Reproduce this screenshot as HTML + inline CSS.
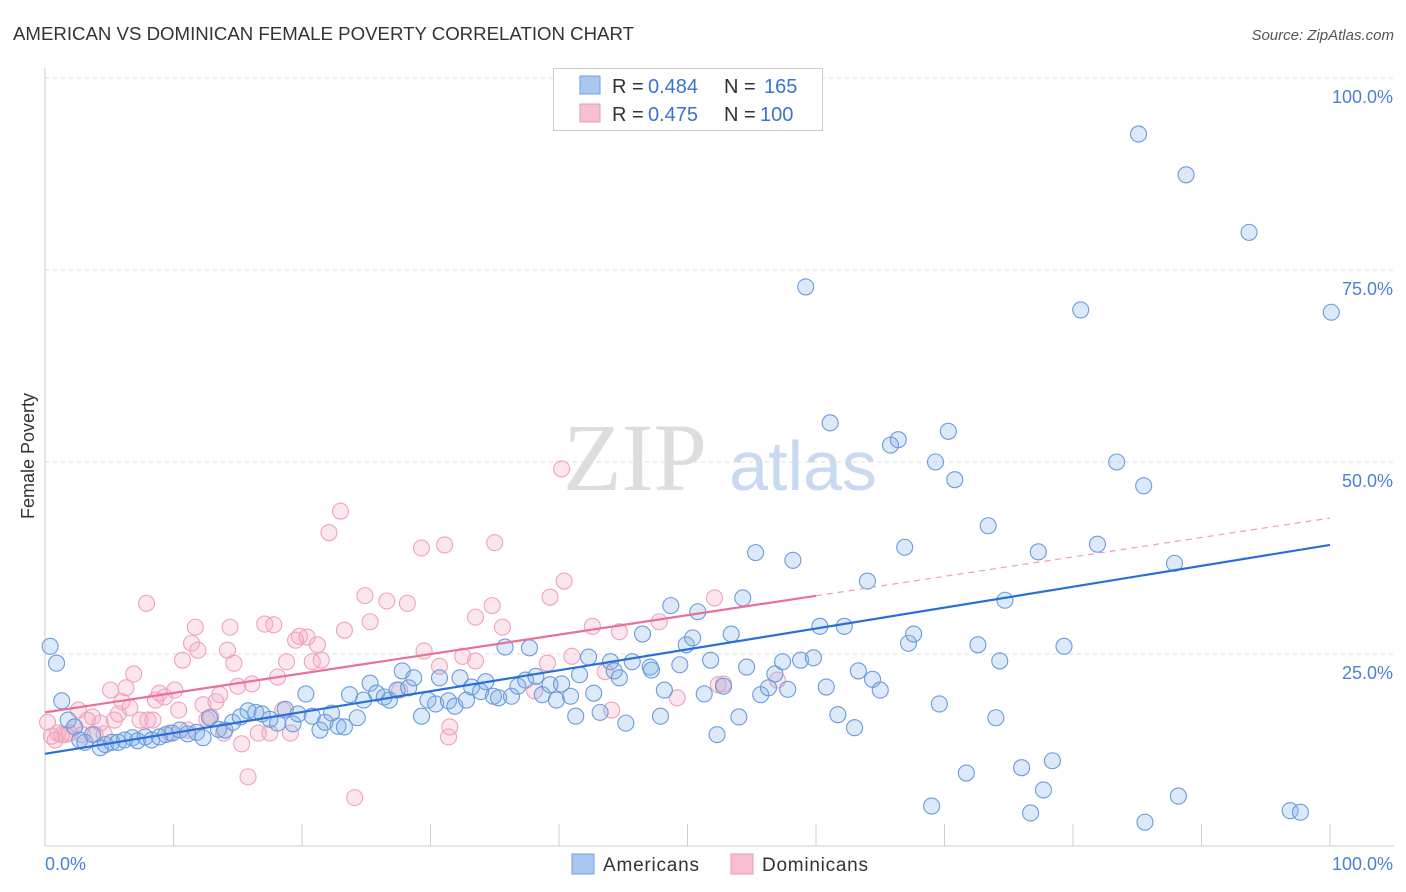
<!DOCTYPE html>
<html><head><meta charset="utf-8"><style>
body{margin:0;background:#fff;font-family:"Liberation Sans",sans-serif;}
#wrap{position:relative;width:1406px;height:892px;overflow:hidden;}
</style></head><body>
<div id="wrap">
<svg id="svg" width="1406" height="892" xmlns="http://www.w3.org/2000/svg">
<text x="13" y="40" font-size="18" fill="#333" textLength="621" lengthAdjust="spacingAndGlyphs">AMERICAN VS DOMINICAN FEMALE POVERTY CORRELATION CHART</text>
<text x="1394" y="40" font-size="15" fill="#555" font-style="italic" text-anchor="end">Source: ZipAtlas.com</text>
<text x="34" y="456" font-size="18" fill="#333" text-anchor="middle" transform="rotate(-90 34 456)">Female Poverty</text>
<g>
<text x="635" y="490" font-size="96" font-family="Liberation Serif,serif" fill="#ddd" text-anchor="middle">ZIP</text>
<text x="803" y="490" font-size="70" fill="#c9daf0" text-anchor="middle">atlas</text>
</g>
<g id="grid"></g><g id="pts"></g><g id="lines"></g>
<g>
<rect x="553.5" y="68.5" width="269" height="62" fill="#fff" stroke="#ccc"/>
<rect x="580" y="76" width="20" height="18" fill="#a9c8f0" stroke="#6f9fdc"/>
<rect x="580" y="104" width="20" height="18" fill="#f7c0d0" stroke="#e89ab2"/>
<text x="612" y="93" font-size="20" fill="#333">R =</text>
<text x="648" y="93" font-size="20" fill="#3a74d0">0.484</text>
<text x="724" y="93" font-size="20" fill="#333">N =</text>
<text x="764" y="93" font-size="20" fill="#3a74d0">165</text>
<text x="612" y="121" font-size="20" fill="#333">R =</text>
<text x="648" y="121" font-size="20" fill="#3a74d0">0.475</text>
<text x="724" y="121" font-size="20" fill="#333">N =</text>
<text x="760" y="121" font-size="20" fill="#3a74d0">100</text>
</g>
<g>
<rect x="572" y="854" width="22" height="20" fill="#a9c8f0" stroke="#6f9fdc"/>
<text x="603" y="871" font-size="19" fill="#333" textLength="96">Americans</text>
<rect x="731" y="854" width="22" height="20" fill="#f7c0d0" stroke="#e89ab2"/>
<text x="762" y="871" font-size="19" fill="#333" textLength="106">Dominicans</text>
</g>
</svg>
<script>
const xTickLabels=["0.0%","100.0%"];
const yTicks=[25,50,75,100];
const yTickLabels=["25.0%","50.0%","75.0%","100.0%"];
const blueX=[0.4,0.9,1.3,1.8,2.3,2.7,3.1,3.7,4.3,4.7,5.2,5.7,6.2,6.8,7.2,7.8,8.3,8.9,9.4,9.9,10.5,11.1,11.8,12.3,12.8,13.5,14.0,14.6,15.2,15.8,16.4,16.9,17.5,18.1,18.7,19.3,19.7,20.3,20.8,21.4,21.8,22.3,22.8,23.3,23.7,24.3,24.8,25.3,25.8,26.4,26.8,27.4,27.8,28.3,28.7,29.3,29.8,30.4,30.7,31.4,31.9,32.3,32.8,33.2,33.9,34.3,34.9,35.3,35.8,36.3,36.8,37.4,37.7,38.2,38.7,39.3,39.8,40.2,40.9,41.3,41.6,42.3,42.7,43.2,44.0,44.3,44.7,45.2,45.7,46.5,47.1,47.2,47.9,48.2,48.7,49.4,49.9,50.4,50.8,51.3,51.8,52.3,52.8,53.4,54.0,54.3,54.6,55.3,55.7,56.3,56.8,57.4,57.8,58.2,58.8,59.2,59.8,60.3,60.8,61.1,61.7,62.2,63.0,63.3,64.0,64.4,65.0,65.8,66.4,66.9,67.2,67.6,69.0,69.3,69.6,70.3,70.8,71.7,72.6,73.4,74.0,74.3,74.7,76.0,76.7,77.3,77.7,78.4,79.3,80.6,81.9,83.4,85.1,85.5,85.6,87.9,88.2,88.8,93.7,96.9,97.7,100.1];
const blueY=[26.0,23.8,18.9,16.4,15.5,13.8,13.5,14.5,12.8,13.2,13.5,13.5,13.8,14.1,13.7,14.2,13.8,14.2,14.5,14.7,15.1,14.6,14.8,14.1,16.7,15.2,15.1,16.1,16.8,17.6,17.4,17.2,16.5,16.0,17.8,15.9,17.2,19.8,16.9,15.1,16.1,17.3,15.6,15.5,19.7,16.7,19.0,21.2,19.9,19.4,19.0,20.3,22.8,20.6,21.9,16.9,19.0,18.5,21.9,18.9,18.2,21.9,19.0,20.7,20.1,21.4,19.5,19.3,25.9,19.5,20.8,21.6,25.8,22.1,19.7,21.0,19.0,21.1,19.5,16.9,22.3,24.6,19.9,17.4,24.0,22.8,21.9,16.0,24.0,27.6,23.3,22.9,16.9,20.3,31.3,23.6,26.2,27.1,30.5,19.8,24.2,14.5,20.8,27.6,16.8,32.3,23.3,38.2,19.7,20.6,22.4,24.0,20.4,37.2,24.2,72.8,24.5,28.6,20.7,55.1,17.1,28.6,15.4,22.8,34.5,21.7,20.3,52.2,52.9,38.9,26.4,27.6,5.2,50.0,18.5,54.0,47.7,9.5,26.2,41.7,16.7,24.1,32.0,10.2,4.3,38.3,7.3,11.1,26.0,69.8,39.3,50.0,92.7,46.9,3.1,36.8,6.5,87.4,79.9,4.6,4.4,69.5];
const pinkX=[0.2,0.5,0.8,1.0,1.3,1.6,1.9,2.3,2.6,2.9,3.3,3.7,3.9,4.3,4.6,5.1,5.4,5.7,6.0,6.3,6.6,6.9,7.4,7.9,8.0,8.4,8.6,8.9,9.3,9.7,10.1,10.4,10.7,11.1,11.4,11.7,11.9,12.3,12.6,12.9,13.3,13.6,13.9,14.2,14.4,14.7,15.0,15.3,15.8,16.1,16.6,17.1,17.5,17.8,18.1,18.5,18.8,19.1,19.5,19.8,20.4,20.8,21.2,21.5,22.1,23.0,23.3,24.1,24.9,25.3,26.6,27.6,28.2,29.3,29.5,30.7,31.1,31.4,31.5,32.5,33.5,33.5,34.8,35.0,35.6,38.1,39.1,39.3,40.2,40.4,41.0,42.6,43.6,44.1,44.7,47.8,49.2,52.1,52.4,52.8,57.0];
const pinkY=[16.1,14.3,13.8,14.7,14.5,14.5,14.7,15.5,17.7,14.5,16.4,16.8,14.5,16.0,14.6,20.3,16.4,17.2,18.8,20.6,18.0,22.4,16.4,31.6,16.4,16.4,19.0,19.9,19.4,14.7,20.3,17.7,24.2,15.1,26.4,28.5,25.5,18.4,16.5,16.8,18.8,19.7,14.7,25.5,28.5,23.8,20.8,13.3,9.0,21.1,14.7,28.9,14.7,28.8,22.0,17.7,24.0,14.7,26.8,27.3,27.2,24.0,26.2,24.2,40.8,43.6,28.1,6.3,32.6,29.2,31.9,20.3,31.6,38.8,25.4,23.4,39.2,14.2,15.5,24.7,29.8,24.1,31.3,39.5,28.5,20.2,23.8,32.4,49.1,34.5,24.7,28.6,22.7,17.7,27.9,29.2,19.3,32.3,21.0,21.1,21.6];
const blueLine=[12.0,39.2];
const pinkLine=[17.4,42.7];
const pinkSolidEnd=60;

const X0=45,X1=1330,Y0=846,Y100=78;
const sx=v=>X0+(X1-X0)*v/100;
const sy=v=>Y0-(Y0-Y100)*v/100;
const NS="http://www.w3.org/2000/svg";
function mk(tag,attrs,parent){const e=document.createElementNS(NS,tag);for(const k in attrs)e.setAttribute(k,attrs[k]);parent.appendChild(e);return e;}
const grid=document.getElementById('grid'),pts=document.getElementById('pts'),lines=document.getElementById('lines');
yTicks.forEach((t,i)=>{
  const l=mk('line',{x1:X0,x2:1394,y1:sy(t),y2:sy(t),stroke:'#ddd','stroke-dasharray':'4,4'},grid);
  
  
  const tx=mk('text',{x:1393,y:sy(t)+25,'font-size':18,fill:'#4a80d8','text-anchor':'end'},grid);
  tx.textContent=yTickLabels[i];
  
  
});
const ax=mk('line',{x1:X0,x2:X0,y1:68,y2:846,stroke:'#ccc'},grid);


const bx=mk('line',{x1:X0,x2:1394,y1:846,y2:846,stroke:'#ccc'},grid);


for(let t=0;t<=100;t+=10){
  const tk=mk('line',{x1:sx(t),x2:sx(t),y1:824,y2:846,stroke:'#ccc'},grid);
  
  
}
[[0,'start',X0],[1,'end',1393]].forEach(([i,a,x])=>{
  const tx=mk('text',{x:x,y:870,'font-size':18,fill:'#4a80d8','text-anchor':a},grid);
  tx.textContent=xTickLabels[i];
  
  
});
pinkX.forEach((x,i)=>{
  const c=mk('circle',{cx:sx(x),cy:sy(pinkY[i]),r:8,fill:'rgba(245,165,195,0.28)',stroke:'#eea3bb','stroke-width':1.1},pts);
  
  
});
blueX.forEach((x,i)=>{
  const c=mk('circle',{cx:sx(x),cy:sy(blueY[i]),r:8,fill:'rgba(130,175,232,0.28)',stroke:'#6b9bdb','stroke-width':1.1},pts);
  
  
});
const bl=mk('line',{x1:sx(0),y1:sy(blueLine[0]),x2:sx(100),y2:sy(blueLine[1]),stroke:'#2a6fd6','stroke-width':2.2},lines);


const pAt=v=>pinkLine[0]+(pinkLine[1]-pinkLine[0])*v/100;
const pl=mk('line',{x1:sx(0),y1:sy(pinkLine[0]),x2:sx(pinkSolidEnd),y2:sy(pAt(pinkSolidEnd)),stroke:'#e8709a','stroke-width':2.2},lines);


const pd=mk('line',{x1:sx(pinkSolidEnd),y1:sy(pAt(pinkSolidEnd)),x2:sx(100),y2:sy(pinkLine[1]),stroke:'#eba0b8','stroke-width':1.2,'stroke-dasharray':'6,5'},lines);


</script>
</div>
</body></html>
